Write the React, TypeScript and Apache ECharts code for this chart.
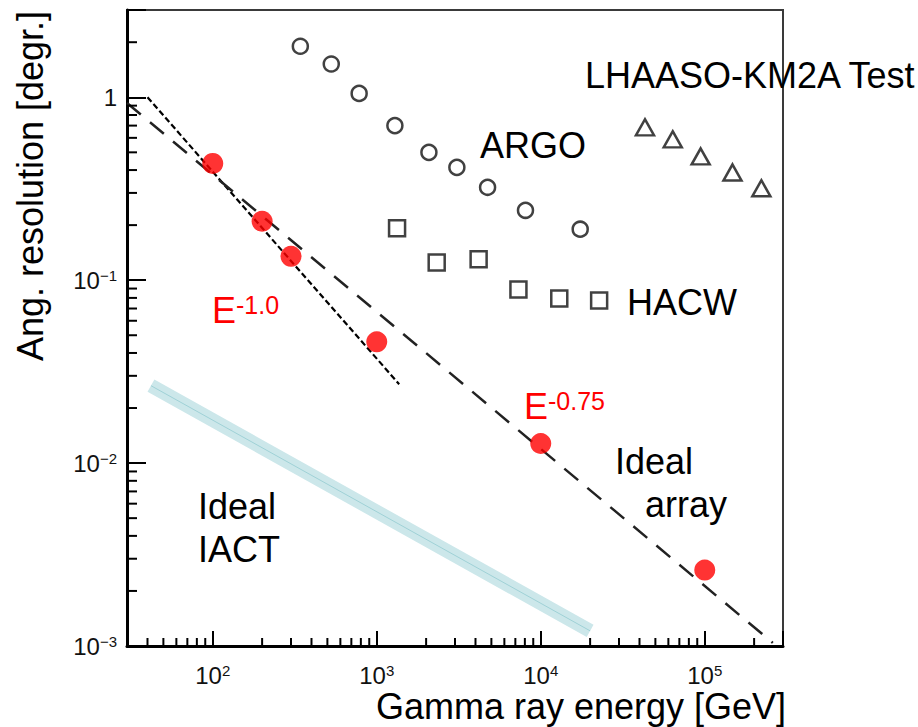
import React, { useEffect, useRef } from 'react';
import * as echarts from 'echarts';

// Axis ranges (GeV on x, degrees on y)
const X_MIN = 30;
const X_MAX = 3e5;
const Y_MIN = 1e-3;
const Y_MAX = 3;

// Measured / simulated angular resolutions
const redPoints = [
  [100, 0.435],
  [200, 0.21],
  [300, 0.135],
  [1000, 0.046],
  [10000, 0.0128],
  [100000, 0.0026],
];
const argo = [
  [342, 1.9],
  [528, 1.52],
  [781, 1.05],
  [1290, 0.7],
  [2080, 0.5],
  [3080, 0.414],
  [4740, 0.322],
  [8070, 0.241],
  [17400, 0.19],
];
const hacw = [
  [1330, 0.192],
  [2320, 0.125],
  [4180, 0.13],
  [7310, 0.089],
  [12970, 0.0794],
  [22700, 0.0774],
];
const lhaasoKm2a = [
  [43200, 0.685],
  [63800, 0.589],
  [94400, 0.475],
  [147600, 0.388],
  [221400, 0.318],
];

// Reference power laws
const slopeMinusOne = [
  [40, 1.0],
  [1370, 0.027],
];
const idealArray = [
  [30, 0.93],
  [260000, 0.00104],
];
const idealIACT = [
  [42, 0.0265],
  [20000, 0.00121],
];

// Decades and in-between steps for the minor ticks
const decadesX = [10, 100, 1000, 10000, 100000];
const decadesY = [0.001, 0.01, 0.1, 1];
const minorSteps = [2, 3, 4, 5, 6, 7, 8, 9];

const FONT = 'Liberation Sans, Arial, Helvetica, sans-serif';
const INK = '#111111';

const xMinor = decadesX
  .flatMap((d) => minorSteps.map((m) => d * m))
  .filter((v) => v > X_MIN && v < X_MAX);
const yMinor = decadesY
  .flatMap((d) => minorSteps.map((m) => d * m))
  .filter((v) => v > Y_MIN && v < Y_MAX);

const powerLabel = (v: number) => {
  const e = Math.round(Math.log10(v));
  if (Math.abs(v - Math.pow(10, e)) > 1e-6 * Math.pow(10, e)) return '';
  if (e === 0) return '{b|1}';
  return `{b|10}{s|${e < 0 ? '\u2212' : ''}${Math.abs(e)}}`;
};

const tickRich = {
  b: { fontSize: 24, fontFamily: FONT, color: INK },
  s: { fontSize: 15, fontFamily: FONT, color: INK, verticalAlign: 'top' },
};

const hollow = (name: string, data: number[][], symbol: string, size: number | number[]) => ({
  name,
  type: 'scatter',
  data,
  symbol,
  symbolSize: size,
  itemStyle: { color: 'rgba(255,255,255,0)', borderColor: '#111', borderWidth: 2.5 },
  z: 4,
});

const labelText = (text: string, x: number, y: number) => ({
  type: 'text',
  x,
  y,
  z: 10,
  style: {
    text,
    font: `36px ${FONT}`,
    fill: '#000',
    align: 'left',
    verticalAlign: 'middle',
  },
});

const powerLawText = (exp: string, x: number, y: number) => ({
  type: 'text',
  x,
  y,
  z: 10,
  style: {
    text: `{e|E}{s|${exp}}`,
    align: 'left',
    verticalAlign: 'middle',
    fill: '#ff0000',
    rich: {
      e: { fontSize: 36, lineHeight: 36, fontFamily: FONT, fill: '#ff0000' },
      s: { fontSize: 25, lineHeight: 25, fontFamily: FONT, fill: '#ff0000', verticalAlign: 'top' },
    },
  },
});

const axisLabelStyle = (margin: number) => ({
  margin,
  formatter: powerLabel,
  rich: tickRich,
  color: INK,
  fontSize: 24,
  fontFamily: FONT,
  hideOverlap: false,
});

export default function App() {
  const ref = useRef<HTMLDivElement>(null);

  useEffect(() => {
    if (!ref.current) return;
    const chart = echarts.init(ref.current, undefined, { renderer: 'svg' });

    const option: any = {
      animation: false,
      backgroundColor: '#ffffff',
      grid: {
        left: 127,
        right: 135,
        top: 10,
        bottom: 81,
        show: true,
        borderColor: '#3a3a3a',
        borderWidth: 2,
        backgroundColor: 'rgba(0,0,0,0)',
      },
      xAxis: {
        type: 'log',
        logBase: 10,
        min: X_MIN,
        max: X_MAX,
        axisLine: { show: true, onZero: false, lineStyle: { color: '#000', width: 3 } },
        axisTick: { show: true, inside: true, length: 15, lineStyle: { color: '#000', width: 2 } },
        splitLine: { show: false },
        axisLabel: axisLabelStyle(17),
      },
      yAxis: {
        type: 'log',
        logBase: 10,
        min: Y_MIN,
        max: Y_MAX,
        axisLine: { show: true, onZero: false, lineStyle: { color: '#000', width: 3 } },
        axisTick: { show: true, inside: true, length: 19, lineStyle: { color: '#000', width: 2 } },
        splitLine: { show: false },
        axisLabel: axisLabelStyle(10),
      },
      graphic: [
        {
          type: 'text',
          x: 30.5,
          y: 186,
          rotation: Math.PI / 2,
          style: {
            text: 'Ang. resolution [degr.]',
            font: `36px ${FONT}`,
            fill: '#000',
            align: 'center',
            verticalAlign: 'middle',
          },
        },
        {
          type: 'text',
          x: 581,
          y: 706.5,
          style: {
            text: 'Gamma ray energy [GeV]',
            font: `36px ${FONT}`,
            fill: '#000',
            align: 'center',
            verticalAlign: 'middle',
          },
        },
        labelText('LHAASO-KM2A Test', 585, 75.5),
        labelText('ARGO', 480, 145.5),
        labelText('HACW', 627, 302.5),
        labelText('Ideal', 615, 461.5),
        labelText('array', 645, 504.5),
        labelText('Ideal', 198, 506.5),
        labelText('IACT', 198, 549.5),
        powerLawText('-1.0', 212, 310),
        powerLawText('-0.75', 524, 406),
      ],
      series: [
        {
          name: 'Ideal IACT band',
          type: 'line',
          data: idealIACT,
          symbol: 'none',
          lineStyle: { color: '#cce7ea', width: 14, cap: 'butt' },
          z: 1,
        },
        {
          name: 'Ideal IACT',
          type: 'line',
          data: idealIACT,
          symbol: 'none',
          lineStyle: { color: '#9fd1d6', width: 1 },
          z: 2,
        },
        {
          name: 'E^-1.0',
          type: 'line',
          data: slopeMinusOne,
          symbol: 'none',
          lineStyle: { color: '#000', width: 2.2, type: [6, 3] },
          z: 3,
        },
        {
          name: 'Ideal array',
          type: 'line',
          data: idealArray,
          symbol: 'none',
          lineStyle: { color: '#222', width: 2.5, type: [18, 12] },
          z: 3,
        },
        hollow('ARGO', argo, 'circle', 15),
        hollow('HACW', hacw, 'rect', 16),
        hollow('LHAASO-KM2A Test', lhaasoKm2a, 'triangle', [18, 16]),
        {
          name: 'Simulation',
          type: 'scatter',
          data: redPoints,
          symbol: 'circle',
          symbolSize: 21,
          itemStyle: { color: '#ff0000' },
          z: 6,
        },
        {
          name: 'x minor ticks',
          type: 'custom',
          silent: true,
          data: xMinor.map((v) => [v, Y_MIN]),
          renderItem: (_p: any, api: any) => {
            const c = api.coord([api.value(0), api.value(1)]);
            return {
              type: 'line',
              shape: { x1: c[0], y1: c[1], x2: c[0], y2: c[1] - 8 },
              style: { stroke: '#000', lineWidth: 2 },
            };
          },
          z: 5,
        },
        {
          name: 'y minor ticks',
          type: 'custom',
          silent: true,
          data: yMinor.map((v) => [X_MIN, v]),
          renderItem: (_p: any, api: any) => {
            const c = api.coord([api.value(0), api.value(1)]);
            return {
              type: 'line',
              shape: { x1: c[0], y1: c[1], x2: c[0] + 10, y2: c[1] },
              style: { stroke: '#000', lineWidth: 2 },
            };
          },
          z: 5,
        },
      ],
    };

    chart.setOption(option);
    return () => chart.dispose();
  }, []);

  return (
    <div
      ref={ref}
      style={{ position: 'fixed', left: 0, top: 0, width: 918, height: 727, background: '#fff' }}
    />
  );
}
